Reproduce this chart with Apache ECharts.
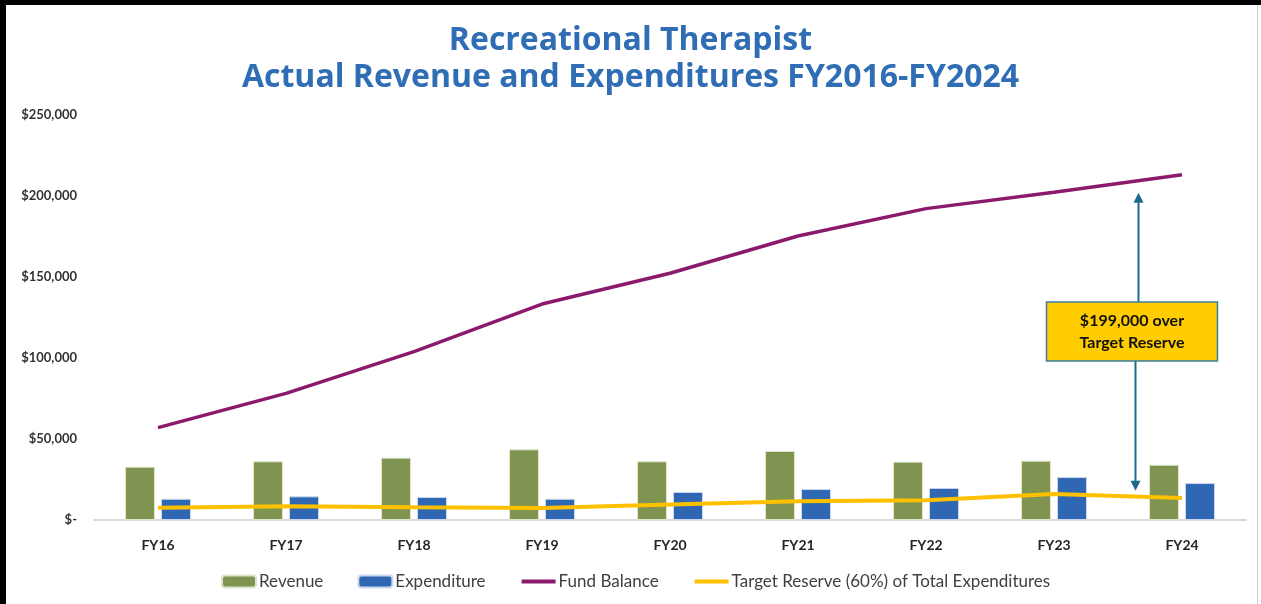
<!DOCTYPE html>
<html>
<head>
<meta charset="utf-8">
<title>Recreational Therapist - Revenue and Expenditures</title>
<script src="https://cdn.jsdelivr.net/npm/echarts@6/dist/echarts.min.js"></script>
<style>
  html, body { margin: 0; padding: 0; background: #fff; }
  #main { width: 1261px; height: 604px; }
</style>
</head>
<body>
<div id="main"></div>
<script>
// values
const categories = ['FY16', 'FY17', 'FY18', 'FY19', 'FY20', 'FY21', 'FY22', 'FY23', 'FY24'];
const revenue = [32900, 36200, 38500, 43600, 36200, 42600, 36000, 36600, 34100];
const expenditure = [13100, 14600, 14200, 13100, 17300, 19100, 19800, 26500, 22800];
const fundBalance = [57000, 78200, 103900, 133300, 152300, 175300, 192200, 202300, 213100];
const targetReserve = [7600, 8500, 7800, 7400, 9500, 11500, 12200, 16000, 13600];
const yTicks = [0, 50000, 100000, 150000, 200000, 250000];
const titleLines = ['Recreational Therapist', 'Actual Revenue and Expenditures FY2016-FY2024'];
const calloutLines = ['$199,000 over', 'Target Reserve'];

const colors = {
  revenue: '#7E9450',
  expenditure: '#2F67B3',
  fund: '#8C1A6C',
  target: '#FFC000',
  title: '#2F6DB5',
  arrow: '#1F6A8C'
};

const fmtMoney = (v) => v === 0 ? '$-' : '$' + v.toLocaleString('en-US');

const chart = echarts.init(document.getElementById('main'));

// line legend entries: plain thick line, no dot
const lineLegend = (name, color) => ({
  name,
  itemStyle: { opacity: 0 },
  lineStyle: { color, width: 4 }
});

const option = {
  animation: false,
  backgroundColor: '#fff',
  title: {
    text: titleLines.join('\n'),
    left: 'center',
    top: 22,
    padding: 0,
    textStyle: {
      fontFamily: 'Open Sans',
      fontWeight: 'bold',
      fontSize: 32,
      lineHeight: 37,
      color: colors.title
    }
  },
  grid: { left: 94, right: 15, top: 115, bottom: 84 },
  legend: {
    bottom: 9,
    left: 216,
    itemWidth: 34,
    itemHeight: 12,
    itemGap: 34,
    textStyle: { fontFamily: 'Lato', fontSize: 17, color: '#404040', padding: [0, 0, 0, -2] },
    data: [
      'Revenue',
      'Expenditure',
      lineLegend('Fund Balance', colors.fund),
      lineLegend('Target Reserve (60%) of Total Expenditures', colors.target)
    ]
  },
  xAxis: {
    type: 'category',
    data: categories,
    axisLine: { lineStyle: { color: '#D9D9D9', width: 2 } },
    axisTick: { show: false },
    axisLabel: {
      margin: 18,
      fontFamily: 'Lato',
      fontWeight: 'bold',
      fontSize: 14,
      color: '#262626'
    }
  },
  yAxis: {
    type: 'value',
    min: yTicks[0],
    max: yTicks[yTicks.length - 1],
    interval: yTicks[1] - yTicks[0],
    splitLine: { show: false },
    axisLine: { show: false },
    axisTick: { show: false },
    axisLabel: {
      margin: 17,
      fontFamily: 'Lato',
      fontWeight: 'bold',
      fontSize: 13,
      color: '#333',
      formatter: fmtMoney
    }
  },
  series: [
    {
      name: 'Revenue',
      type: 'bar',
      data: revenue,
      barWidth: 30,
      barGap: '20%',
      itemStyle: { color: colors.revenue, borderColor: '#DDE5CC', borderWidth: 1 }
    },
    {
      name: 'Expenditure',
      type: 'bar',
      data: expenditure,
      barWidth: 30,
      itemStyle: { color: colors.expenditure, borderColor: '#C9D8EE', borderWidth: 1 }
    },
    {
      name: 'Fund Balance',
      type: 'line',
      data: fundBalance,
      symbol: 'none',
      z: 5,
      lineStyle: { color: colors.fund, width: 3.5 },
      itemStyle: { color: colors.fund }
    },
    {
      name: 'Target Reserve (60%) of Total Expenditures',
      type: 'line',
      data: targetReserve,
      symbol: 'none',
      z: 5,
      lineStyle: { color: colors.target, width: 4 },
      itemStyle: { color: colors.target }
    }
  ]
};

chart.setOption(option);

// callout: arrow between the two lines, placed from the axes
const p23 = chart.convertToPixel({ gridIndex: 0 }, [7, 0]);
const p24 = chart.convertToPixel({ gridIndex: 0 }, [8, 0]);
const ax = p23[0] + (p24[0] - p23[0]) * 0.66;
const yTop = chart.convertToPixel({ gridIndex: 0 }, [8, 202000])[1];
const yBot = chart.convertToPixel({ gridIndex: 0 }, [8, 18000])[1];
const boxW = 171, boxH = 59;
const boxX = ax - 92, boxY = 302;

chart.setOption({
  graphic: [
    // picture frame
    { type: 'rect', shape: { x: 0, y: 0, width: 1261, height: 5 }, style: { fill: '#000' }, silent: true },
    { type: 'rect', shape: { x: 0, y: 0, width: 6, height: 604 }, style: { fill: '#000' }, silent: true },
    { type: 'rect', shape: { x: 1257, y: 5, width: 1, height: 599 }, style: { fill: '#D0D0D0' }, silent: true },
    // arrow up
    { type: 'line', shape: { x1: ax, y1: boxY, x2: ax, y2: yTop + 8 }, style: { stroke: colors.arrow, lineWidth: 2 }, z: 10 },
    { type: 'polygon', shape: { points: [[ax, yTop], [ax - 5, yTop + 10], [ax + 5, yTop + 10]] }, style: { fill: colors.arrow }, z: 10 },
    // arrow down
    { type: 'line', shape: { x1: ax - 3, y1: boxY + boxH, x2: ax - 3, y2: yBot - 8 }, style: { stroke: colors.arrow, lineWidth: 2 }, z: 10 },
    { type: 'polygon', shape: { points: [[ax - 3, yBot], [ax - 8, yBot - 10], [ax + 2, yBot - 10]] }, style: { fill: colors.arrow }, z: 10 },
    // box
    { type: 'rect', shape: { x: boxX, y: boxY, width: boxW, height: boxH }, style: { fill: '#FFCC00', stroke: '#3A7FA3', lineWidth: 1.5 }, z: 11 },
    {
      type: 'text', x: boxX + boxW / 2, y: boxY + boxH / 2, z: 12,
      style: {
        text: calloutLines.join('\n'),
        align: 'center', verticalAlign: 'middle',
        font: 'bold 16px Lato', lineHeight: 22, fill: '#111'
      }
    }
  ]
});
</script>
</body>
</html>
